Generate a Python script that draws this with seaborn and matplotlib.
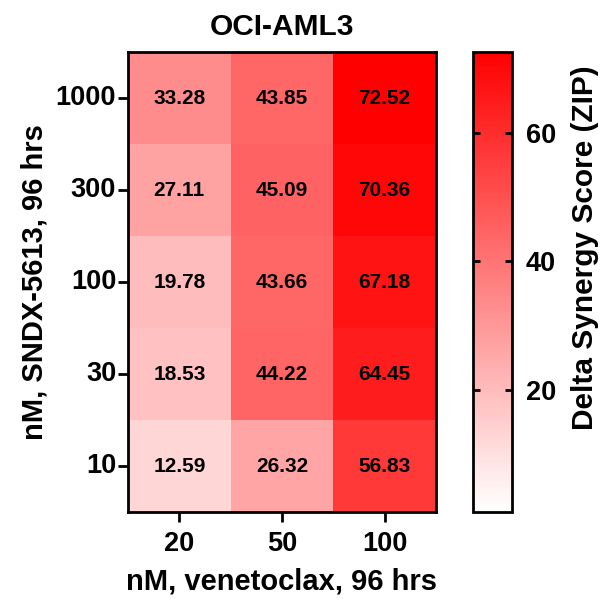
import numpy as np
import pandas as pd
import matplotlib
matplotlib.use("Agg")
import matplotlib.pyplot as plt
import seaborn as sns
from matplotlib.colors import LinearSegmentedColormap

venetoclax = ["20", "50", "100"]
sndx = ["1000", "300", "100", "30", "10"]
scores = [
    [33.28, 43.85, 72.52],
    [27.11, 45.09, 70.36],
    [19.78, 43.66, 67.18],
    [18.53, 44.22, 64.45],
    [12.59, 26.32, 56.83],
]

sns.set_style("white")
plt.rcParams['font.family'] = ['Liberation Sans', 'DejaVu Sans']
plt.rcParams['font.weight'] = 'bold'
for k in ['text.color', 'axes.labelcolor', 'xtick.color', 'ytick.color']:
    plt.rcParams[k] = 'black'

df = pd.DataFrame(scores, index=sndx, columns=venetoclax)
cmap = LinearSegmentedColormap.from_list("wr", ["#ffffff", "#ff0000"])

fig = plt.figure(figsize=(6.04, 6.01), dpi=100)
ax = fig.add_axes([128/604, 1-512/601, 308/604, 460/601])
cax = fig.add_axes([473/604, 1-512/601, 39/604, 460/601])

sns.heatmap(df, ax=ax, cbar_ax=cax, cmap=cmap, vmin=1, vmax=72.52,
            annot=True, fmt=".2f",
            annot_kws={"fontsize": 15, "fontweight": "bold", "color": "black"},
            cbar_kws={"ticks": [20, 40, 60]})

ax.set_title("OCI-AML3", fontsize=21.5, fontweight="bold", pad=12)
ax.set_xlabel("nM, venetoclax, 96 hrs", fontsize=21, fontweight="bold", labelpad=8)
ax.set_ylabel("nM, SNDX-5613, 96 hrs", fontsize=21, fontweight="bold", labelpad=5)
ax.tick_params(axis="both", which="major", length=7.5, width=2, direction="out",
               labelsize=19.5, bottom=True, left=True, colors="black")
ax.tick_params(axis="x", pad=6)
ax.tick_params(axis="y", pad=1)
plt.setp(ax.get_xticklabels(), fontweight="bold", rotation=0)
plt.setp(ax.get_yticklabels(), fontweight="bold", rotation=0)
for s in ax.spines.values():
    s.set_visible(True)
    s.set_linewidth(2)
    s.set_color("black")

cbar = ax.collections[0].colorbar
cbar.outline.set_linewidth(2)
cbar.outline.set_edgecolor("black")
cax.set_axisbelow(False)
cax.tick_params(axis="y", length=5, width=2, direction="in", labelsize=19.5,
                left=True, right=True, pad=10, colors="black")
plt.setp(cax.get_yticklabels(), fontweight="bold")
cax.set_ylabel("Delta Synergy Score (ZIP)", fontsize=21.5, fontweight="bold")
cax.yaxis.set_label_coords(2.87, 0.575)
cax.yaxis.label.set_verticalalignment("center")

fig.savefig("out.png", dpi=100)
